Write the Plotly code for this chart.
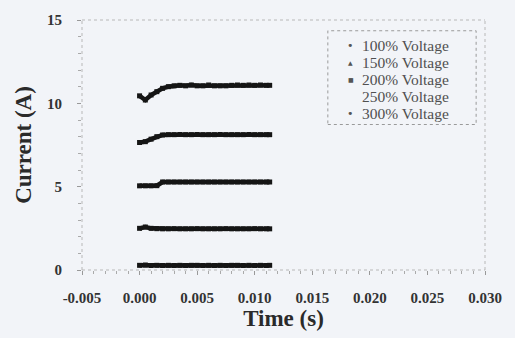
import plotly.graph_objects as go

# ---- data ----
time_s = [0.0000, 0.0005, 0.0010, 0.0015, 0.0020, 0.0025, 0.0030, 0.0035,
          0.0040, 0.0045, 0.0050, 0.0055, 0.0060, 0.0065, 0.0070, 0.0075,
          0.0080, 0.0085, 0.0090, 0.0095, 0.0100, 0.0105, 0.0110, 0.0113]

v100 = [0.28, 0.30, 0.27, 0.28, 0.27, 0.28, 0.27, 0.28, 0.27, 0.28, 0.28, 0.27,
        0.28, 0.27, 0.28, 0.27, 0.28, 0.28, 0.27, 0.28, 0.27, 0.28, 0.27, 0.28]
v150 = [2.50, 2.58, 2.50, 2.48, 2.47, 2.47, 2.48, 2.47, 2.47, 2.47, 2.48, 2.47,
        2.47, 2.47, 2.47, 2.48, 2.47, 2.47, 2.47, 2.47, 2.48, 2.47, 2.47, 2.47]
v200 = [5.05, 5.05, 5.05, 5.06, 5.28, 5.28, 5.28, 5.28, 5.28, 5.28, 5.28, 5.28,
        5.28, 5.28, 5.28, 5.28, 5.28, 5.28, 5.28, 5.28, 5.28, 5.28, 5.28, 5.28]
v250 = [7.65, 7.70, 7.85, 8.00, 8.10, 8.12, 8.12, 8.13, 8.12, 8.12, 8.13, 8.12,
        8.12, 8.12, 8.13, 8.12, 8.12, 8.12, 8.12, 8.13, 8.12, 8.12, 8.12, 8.12]
v300 = [10.45, 10.20, 10.50, 10.70, 10.90, 11.00, 11.05, 11.08, 11.05, 11.10,
        11.05, 11.05, 11.10, 11.05, 11.05, 11.05, 11.08, 11.10, 11.08, 11.10,
        11.08, 11.10, 11.08, 11.08]

series_names = ["100% Voltage", "150% Voltage", "200% Voltage",
                "250% Voltage", "300% Voltage"]
series_values = [v100, v150, v200, v250, v300]
legend_glyphs = ["•", "▲", "■", "", "•"]

x_tickvals = [-0.005, 0.000, 0.005, 0.010, 0.015, 0.020, 0.025, 0.030]
x_ticktext = ["-0.005", "0.000", "0.005", "0.010", "0.015", "0.020", "0.025", "0.030"]
y_tickvals = [0, 5, 10, 15]
y_ticktext = ["0", "5", "10", "15"]

# ---- styling ----
BG = "#f2f4f8"
INK = "#151515"
SERIF = "Liberation Serif"
glyph_sizes = [11, 6, 6, 6, 11]

fig = go.Figure()

for name, vals in zip(series_names, series_values):
    fig.add_trace(go.Scatter(
        x=time_s, y=vals, mode="lines+markers", name=name, showlegend=False,
        line=dict(color=INK, width=4.5),
        marker=dict(symbol="square", size=5, color=INK),
    ))

frame = dict(type="line", xref="paper", yref="paper",
             line=dict(color="#b8b8b8", width=1, dash="dot"), layer="below")
shapes = [
    dict(frame, x0=0, x1=1, y0=1, y1=1),
    dict(frame, x0=1, x1=1, y0=0, y1=1),
    dict(frame, x0=0, x1=0, y0=0, y1=1),
    dict(frame, x0=0, x1=1, y0=0, y1=0),
    dict(type="rect", xref="paper", yref="paper", x0=0.61, x1=0.978,
         y0=0.582, y1=0.957, line=dict(color="#9a9a9a", width=1, dash="dot"),
         fillcolor="rgba(0,0,0,0)", layer="below"),
]

# legend drawn as text rows inside the dotted box
annotations = []
row_top = 0.898
row_step = 0.0684
for i, (name, glyph, gs) in enumerate(zip(series_names, legend_glyphs, glyph_sizes)):
    yy = row_top - i * row_step
    annotations.append(dict(xref="paper", yref="paper", x=0.692, y=yy,
                            xanchor="left", yanchor="middle", showarrow=False,
                            borderpad=0,
                            text=name, font=dict(family=SERIF, size=15.5, color="#505050")))
    if glyph:
        annotations.append(dict(xref="paper", yref="paper", x=0.667, y=yy,
                                xanchor="center", yanchor="middle", showarrow=False,
                                borderpad=0,
                                text=glyph, font=dict(family="DejaVu Sans", size=gs, color="#555555")))

fig.update_layout(
    width=515, height=338,
    margin=dict(l=82, r=30, t=15, b=67),
    paper_bgcolor=BG, plot_bgcolor=BG,
    font=dict(family=SERIF, color="#333333"),
    shapes=shapes,
    annotations=annotations,
    showlegend=False,
    xaxis=dict(
        range=[-0.005, 0.030], showgrid=False, zeroline=False, showline=False,
        tickmode="array", tickvals=x_tickvals, ticktext=x_ticktext,
        ticks="outside", ticklen=4, tickcolor="#999999", tickwidth=1,
        minor=dict(dtick=0.001, ticks="outside", ticklen=3, tickcolor="#aaaaaa", showgrid=False),
        tickfont=dict(family=SERIF, size=15, color="#333333", weight="bold"),
        ticklabelstandoff=10,
        title=dict(text="<b>Time (s)</b>", font=dict(family=SERIF, size=23, color="#2a2a2a"),
                   standoff=4),
    ),
    yaxis=dict(
        range=[0, 15], showgrid=False, zeroline=False, showline=False,
        tickmode="array", tickvals=y_tickvals, ticktext=y_ticktext,
        ticks="outside", ticklen=4, tickcolor="#999999", tickwidth=1,
        minor=dict(dtick=1, ticks="outside", ticklen=3, tickcolor="#aaaaaa", showgrid=False),
        tickfont=dict(family=SERIF, size=15, color="#333333", weight="bold"),
        ticklabelstandoff=12,
        title=dict(text="<b>Current (A)</b>", font=dict(family=SERIF, size=23, color="#2a2a2a"),
                   standoff=8),
    ),
)

fig.write_html("out.html")
